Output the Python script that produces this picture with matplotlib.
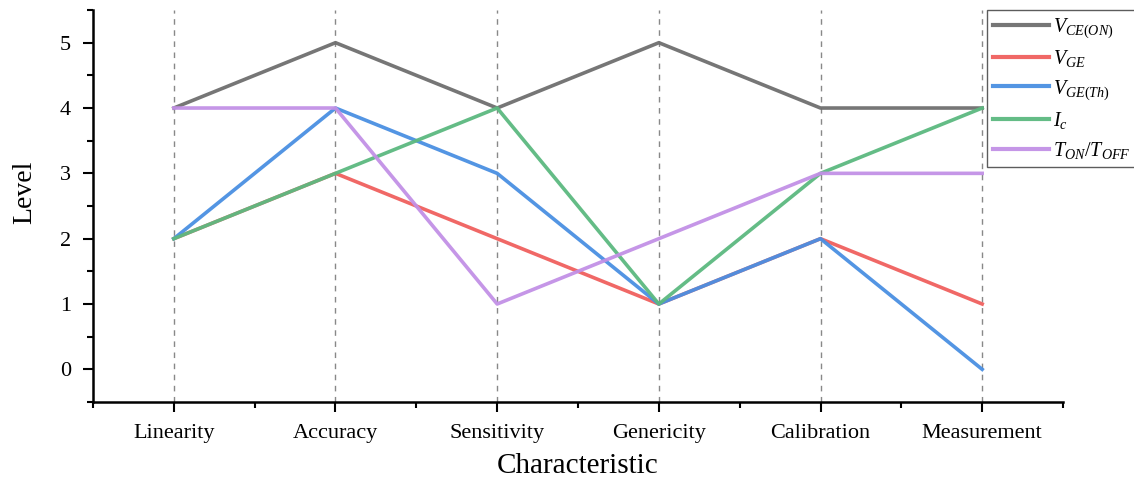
import matplotlib
matplotlib.use('Agg')
import matplotlib.pyplot as plt
from matplotlib.ticker import MultipleLocator

plt.rcParams['font.family'] = ['Liberation Serif', 'DejaVu Serif']
plt.rcParams['mathtext.fontset'] = 'custom'
plt.rcParams['mathtext.rm'] = 'Liberation Serif'
plt.rcParams['mathtext.it'] = 'Liberation Serif:italic'

categories = ['Linearity', 'Accuracy', 'Sensitivity', 'Genericity', 'Calibration', 'Measurement']
labels = [r'$V_{CE(ON)}$', r'$V_{GE}$', r'$V_{GE(Th)}$', r'$I_c$', r'$T_{ON}/T_{OFF}$']
vce_on = [4, 5, 4, 5, 4, 4]
vge = [2, 3, 2, 1, 2, 1]
vge_th = [2, 4, 3, 1, 2, 0]
ic = [2, 3, 4, 1, 3, 4]
ton_toff = [4, 4, 1, 2, 3, 3]
colors = ['#6f6f6f', '#f0605e', '#4a8fe2', '#5cb980', '#c290e6']

x = list(range(1, len(categories) + 1))

fig = plt.figure(figsize=(11.34, 4.78), dpi=100)
ax = fig.add_axes([0.082, 0.159, 0.8554, 0.82])

for i in x:
    ax.axvline(i, color='#888888', ls=(0, (4, 4)), lw=1, zorder=0)

for y, lab, c in zip([vce_on, vge, vge_th, ic, ton_toff], labels, colors):
    ax.plot(x, y, color=c, lw=2.6, label=lab, alpha=0.95)

ax.set_xlim(0.5, 6.5)
ax.set_ylim(-0.5, 5.5)
ax.set_xticks(x)
ax.set_xticklabels(categories)
ax.set_xticks([0.5 + i for i in range(7)], minor=True)
ax.set_yticks(range(0, 6))
ax.yaxis.set_minor_locator(MultipleLocator(0.5))
ax.tick_params(axis='both', which='major', direction='out', length=7, width=1.5, labelsize=16)
ax.tick_params(axis='both', which='minor', direction='out', length=4, width=1.5)
ax.tick_params(axis='x', pad=9)
ax.tick_params(axis='y', pad=9)

for s in ['top', 'right']:
    ax.spines[s].set_visible(False)
for s in ['left', 'bottom']:
    ax.spines[s].set_linewidth(1.8)

ax.set_xlabel('Characteristic', fontsize=21)
ax.xaxis.set_label_coords(0.5, -0.13)
ax.set_ylabel('Level', fontsize=20)
ax.yaxis.set_label_coords(-0.058, 0.535)

leg = ax.legend(loc='upper left', bbox_to_anchor=(0.922, 1.0), fontsize=14.5,
                frameon=True, fancybox=False, edgecolor='#333333',
                handlelength=2.75, handletextpad=0.2, labelspacing=0.42,
                borderpad=0.3, borderaxespad=0)
leg.get_frame().set_linewidth(1.0)
for line in leg.get_lines():
    line.set_linewidth(3)

fig.savefig('out.png', dpi=100)
